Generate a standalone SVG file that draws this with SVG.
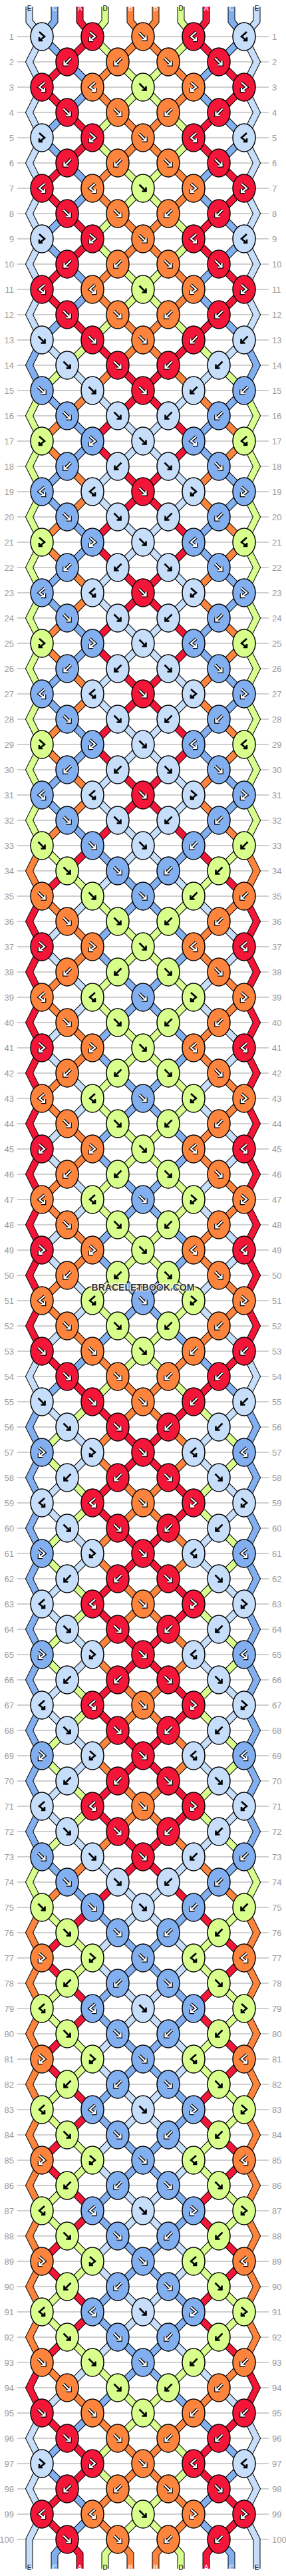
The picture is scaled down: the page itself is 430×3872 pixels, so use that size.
<svg xmlns="http://www.w3.org/2000/svg" width="430" height="3872" viewBox="0 0 430 3872">
<style>
.R{fill:#f31638}.O{fill:#fd843d}.G{fill:#d8fe8c}.M{fill:#82aff0}.L{fill:#c6defa}
.o{fill:none;stroke:#000;stroke-width:4.6}
.w{fill:none;stroke:#fff;stroke-width:2.2}
.k{fill:none;stroke:#000;stroke-width:2.6}
.so{fill:none;stroke:#000;stroke-width:11}
.cR{fill:none;stroke:#f31638;stroke-width:9}.cO{fill:none;stroke:#fd843d;stroke-width:9}.cG{fill:none;stroke:#d8fe8c;stroke-width:9}.cM{fill:none;stroke:#82aff0;stroke-width:9}.cL{fill:none;stroke:#c6defa;stroke-width:9}
.gl{fill:none;stroke:#c0c0c0;stroke-width:1.5}
.nl{font-family:"Liberation Sans",Arial,sans-serif;font-size:13px;fill:#9a9a9a;text-anchor:end}
.nr{font-family:"Liberation Sans",Arial,sans-serif;font-size:13px;fill:#9a9a9a;text-anchor:start}
.lt{font-family:"Liberation Sans",Arial,sans-serif;font-size:10px;text-anchor:middle}
.wt{fill:#fff}.bt{fill:#000}
</style>
<defs>
<ellipse id="e" rx="17" ry="21" stroke="#000" stroke-width="1.5"/>
<path id="af" d="M-5.5,-5.5L4.5,4.5M4.5,-1.5V4.5H-1.5"/>
<path id="ab" d="M5.5,-5.5L-4.5,4.5M-4.5,-1.5V4.5H1.5"/>
<path id="afb" d="M-4,-7L4,0L-4,6M-4,1V6H1"/>
<path id="abf" d="M4,-7L-4,0L4,6M4,1V6H-1"/>
<g id="Rf"><use href="#e" class="R"/><use href="#af" class="o"/><use href="#af" class="w"/></g>
<g id="Rb"><use href="#e" class="R"/><use href="#ab" class="o"/><use href="#ab" class="w"/></g>
<g id="Rfb"><use href="#e" class="R"/><use href="#afb" class="o"/><use href="#afb" class="w"/></g>
<g id="Rbf"><use href="#e" class="R"/><use href="#abf" class="o"/><use href="#abf" class="w"/></g>
<g id="Of"><use href="#e" class="O"/><use href="#af" class="o"/><use href="#af" class="w"/></g>
<g id="Ob"><use href="#e" class="O"/><use href="#ab" class="o"/><use href="#ab" class="w"/></g>
<g id="Ofb"><use href="#e" class="O"/><use href="#afb" class="o"/><use href="#afb" class="w"/></g>
<g id="Obf"><use href="#e" class="O"/><use href="#abf" class="o"/><use href="#abf" class="w"/></g>
<g id="Mf"><use href="#e" class="M"/><use href="#af" class="o"/><use href="#af" class="w"/></g>
<g id="Mb"><use href="#e" class="M"/><use href="#ab" class="o"/><use href="#ab" class="w"/></g>
<g id="Mfb"><use href="#e" class="M"/><use href="#afb" class="o"/><use href="#afb" class="w"/></g>
<g id="Mbf"><use href="#e" class="M"/><use href="#abf" class="o"/><use href="#abf" class="w"/></g>
<g id="Gf"><use href="#e" class="G"/><use href="#af" class="k"/></g>
<g id="Gb"><use href="#e" class="G"/><use href="#ab" class="k"/></g>
<g id="Gfb"><use href="#e" class="G"/><use href="#afb" class="k"/></g>
<g id="Gbf"><use href="#e" class="G"/><use href="#abf" class="k"/></g>
<g id="Lf"><use href="#e" class="L"/><use href="#af" class="k"/></g>
<g id="Lb"><use href="#e" class="L"/><use href="#ab" class="k"/></g>
<g id="Lfb"><use href="#e" class="L"/><use href="#afb" class="k"/></g>
<g id="Lbf"><use href="#e" class="L"/><use href="#abf" class="k"/></g>
<path id="sL" d="M44,10V32L63,55l-19,38 19,38 -19,38 19,38 -19,38 19,38 -19,38 19,38 -19,38 19,38 -19,38 19,38 38,38 38,38 38,38 38,38 -38,38 -38,38 38,38 38,38 -38,38 -38,38 38,38 38,38 -38,38 -38,38 38,38 38,38 -38,38 -38,38 38,38 38,38 -38,38 -38,38 -38,38 -38,38 38,38 38,38 -38,38 -38,38 38,38 38,38 -38,38 -38,38 38,38 38,38 -38,38 -38,38 38,38 38,38 -38,38 -38,38 -19,38 19,38 38,38 38,38 -38,38 -38,38 38,38 38,38 -38,38 -38,38 38,38 38,38 -38,38 -38,38 38,38 38,38 -38,38 -38,38 38,38 38,38 38,38 38,38 -38,38 -38,38 38,38 38,38 -38,38 -38,38 38,38 38,38 -38,38 -38,38 38,38 38,38 -38,38 -38,38 38,38 38,38 -38,38 -38,38 -38,38 -38,38 -19,38 19,38 -19,38 19,38 -19,38V3861"/>
<path id="sM" d="M82,10V32L63,55l38,38 38,38 -38,38 -38,38 38,38 38,38 -38,38 -38,38 38,38 38,38 -38,38 -38,38 -19,38 19,38 38,38 38,38 -38,38 -38,38 38,38 38,38 -38,38 -38,38 38,38 38,38 -38,38 -38,38 38,38 38,38 -38,38 -38,38 38,38 38,38 38,38 38,38 -38,38 -38,38 38,38 38,38 -38,38 -38,38 38,38 38,38 -38,38 -38,38 38,38 38,38 -38,38 -38,38 38,38 38,38 -38,38 -38,38 -38,38 -38,38 -19,38 19,38 -19,38 19,38 -19,38 19,38 -19,38 19,38 -19,38 19,38 -19,38 19,38 -19,38 19,38 -19,38 19,38 -19,38 19,38 38,38 38,38 38,38 38,38 -38,38 -38,38 38,38 38,38 -38,38 -38,38 38,38 38,38 -38,38 -38,38 38,38 38,38 -38,38 -38,38 38,38 38,38 -38,38 -38,38 -38,38 -38,38 38,38 38,38 -38,38 -19,22V3861"/>
<path id="sR" d="M120,10V32L139,55l-38,38 -38,38 38,38 38,38 -38,38 -38,38 38,38 38,38 -38,38 -38,38 38,38 38,38 38,38 38,38 -38,38 -38,38 38,38 38,38 -38,38 -38,38 38,38 38,38 -38,38 -38,38 38,38 38,38 -38,38 -38,38 38,38 38,38 -38,38 -38,38 -38,38 -38,38 -19,38 19,38 -19,38 19,38 -19,38 19,38 -19,38 19,38 -19,38 19,38 -19,38 19,38 -19,38 19,38 -19,38 19,38 -19,38 19,38 38,38 38,38 38,38 38,38 -38,38 -38,38 38,38 38,38 -38,38 -38,38 38,38 38,38 -38,38 -38,38 38,38 38,38 -38,38 -38,38 38,38 38,38 -38,38 -38,38 -38,38 -38,38 38,38 38,38 -38,38 -38,38 38,38 38,38 -38,38 -38,38 38,38 38,38 -38,38 -38,38 38,38 38,38 -38,38 -38,38 -19,38 19,38 38,38 38,38 -38,38 -38,38 38,38 19,22V3861"/>
<path id="sG" d="M158,10V32L139,55l38,38 38,38 -38,38 -38,38 38,38 38,38 -38,38 -38,38 38,38 38,38 -38,38 -38,38 -38,38 -38,38 -19,38 19,38 -19,38 19,38 -19,38 19,38 -19,38 19,38 -19,38 19,38 -19,38 19,38 -19,38 19,38 -19,38 19,38 -19,38 19,38 38,38 38,38 38,38 38,38 -38,38 -38,38 38,38 38,38 -38,38 -38,38 38,38 38,38 -38,38 -38,38 38,38 38,38 -38,38 -38,38 38,38 38,38 -38,38 -38,38 -38,38 -38,38 38,38 38,38 -38,38 -38,38 38,38 38,38 -38,38 -38,38 38,38 38,38 -38,38 -38,38 38,38 38,38 -38,38 -38,38 -19,38 19,38 38,38 38,38 -38,38 -38,38 38,38 38,38 -38,38 -38,38 38,38 38,38 -38,38 -38,38 38,38 38,38 -38,38 -38,38 38,38 38,38 38,38 38,38 -38,38 -38,38 38,38 38,38 -38,38 -19,22V3861"/>
<path id="sO" d="M196,10V32L215,55l-38,38 -38,38 38,38 38,38 -38,38 -38,38 38,38 38,38 -38,38 -38,38 38,38 38,38 -38,38 -38,38 -38,38 -38,38 38,38 38,38 -38,38 -38,38 38,38 38,38 -38,38 -38,38 38,38 38,38 -38,38 -38,38 38,38 38,38 -38,38 -38,38 -19,38 19,38 38,38 38,38 -38,38 -38,38 38,38 38,38 -38,38 -38,38 38,38 38,38 -38,38 -38,38 38,38 38,38 -38,38 -38,38 38,38 38,38 38,38 38,38 -38,38 -38,38 38,38 38,38 -38,38 -38,38 38,38 38,38 -38,38 -38,38 38,38 38,38 -38,38 -38,38 38,38 38,38 -38,38 -38,38 -38,38 -38,38 -19,38 19,38 -19,38 19,38 -19,38 19,38 -19,38 19,38 -19,38 19,38 -19,38 19,38 -19,38 19,38 -19,38 19,38 -19,38 19,38 38,38 38,38 38,38 38,38 -38,38 -38,38 38,38 19,22V3861"/>
</defs>
<rect width="430" height="3872" fill="#fff"/>
<g id="rowlines">
<path class="gl" d="M26,55H404M26,93H404M26,131H404M26,169H404M26,207H404M26,245H404M26,283H404M26,321H404M26,359H404M26,397H404M26,435H404M26,473H404M26,511H404M26,549H404M26,587H404M26,625H404M26,663H404M26,701H404M26,739H404M26,777H404M26,815H404M26,853H404M26,891H404M26,929H404M26,967H404M26,1005H404M26,1043H404M26,1081H404M26,1119H404M26,1157H404M26,1195H404M26,1233H404M26,1271H404M26,1309H404M26,1347H404M26,1385H404M26,1423H404M26,1461H404M26,1499H404M26,1537H404M26,1575H404M26,1613H404M26,1651H404M26,1689H404M26,1727H404M26,1765H404M26,1803H404M26,1841H404M26,1879H404M26,1917H404M26,1955H404M26,1993H404M26,2031H404M26,2069H404M26,2107H404M26,2145H404M26,2183H404M26,2221H404M26,2259H404M26,2297H404M26,2335H404M26,2373H404M26,2411H404M26,2449H404M26,2487H404M26,2525H404M26,2563H404M26,2601H404M26,2639H404M26,2677H404M26,2715H404M26,2753H404M26,2791H404M26,2829H404M26,2867H404M26,2905H404M26,2943H404M26,2981H404M26,3019H404M26,3057H404M26,3095H404M26,3133H404M26,3171H404M26,3209H404M26,3247H404M26,3285H404M26,3323H404M26,3361H404M26,3399H404M26,3437H404M26,3475H404M26,3513H404M26,3551H404M26,3589H404M26,3627H404M26,3665H404M26,3703H404M26,3741H404M26,3779H404M26,3817H404"/>
</g>
<g id="connectors">
<g id="strings-left">
<use href="#sL" class="so"/><use href="#sL" class="cL"/>
<use href="#sM" class="so"/><use href="#sM" class="cM"/>
<use href="#sR" class="so"/><use href="#sR" class="cR"/>
<use href="#sG" class="so"/><use href="#sG" class="cG"/>
<use href="#sO" class="so"/><use href="#sO" class="cO"/>
</g>
<g id="strings-right" transform="matrix(-1,0,0,1,430,0)">
<use href="#sL" class="so"/><use href="#sL" class="cL"/>
<use href="#sM" class="so"/><use href="#sM" class="cM"/>
<use href="#sR" class="so"/><use href="#sR" class="cR"/>
<use href="#sG" class="so"/><use href="#sG" class="cG"/>
<use href="#sO" class="so"/><use href="#sO" class="cO"/>
</g>
</g>
<g id="string-labels" class="lt">
<text x="44" y="16" class="bt">E</text><text x="82" y="16" class="wt">C</text><text x="120" y="16" class="wt">A</text><text x="158" y="16" class="bt">D</text><text x="196" y="16" class="wt">B</text><text x="234" y="16" class="wt">B</text><text x="272" y="16" class="bt">D</text><text x="310" y="16" class="wt">A</text><text x="348" y="16" class="wt">C</text><text x="386" y="16" class="bt">E</text>
<text x="44" y="3863" class="bt">E</text><text x="82" y="3863" class="wt">C</text><text x="120" y="3863" class="wt">A</text><text x="158" y="3863" class="bt">D</text><text x="196" y="3863" class="wt">B</text><text x="234" y="3863" class="wt">B</text><text x="272" y="3863" class="bt">D</text><text x="310" y="3863" class="wt">A</text><text x="348" y="3863" class="wt">C</text><text x="386" y="3863" class="bt">E</text>
</g>
<g id="knots">
<g transform="translate(0,55)"><g id="k1-1"><use href="#Lfb" x="63"/></g><g id="k1-2"><use href="#Rfb" x="139"/></g><g id="k1-3"><use href="#Of" x="215"/></g><g id="k1-4"><use href="#Rbf" x="291"/></g><g id="k1-5"><use href="#Lbf" x="367"/></g></g>
<g transform="translate(0,93)"><g id="k2-1"><use href="#Rb" x="101"/></g><g id="k2-2"><use href="#Ob" x="177"/></g><g id="k2-3"><use href="#Of" x="253"/></g><g id="k2-4"><use href="#Rf" x="329"/></g></g>
<g transform="translate(0,131)"><g id="k3-1"><use href="#Rbf" x="63"/></g><g id="k3-2"><use href="#Obf" x="139"/></g><g id="k3-3"><use href="#Gf" x="215"/></g><g id="k3-4"><use href="#Ofb" x="291"/></g><g id="k3-5"><use href="#Rfb" x="367"/></g></g>
<g transform="translate(0,169)"><g id="k4-1"><use href="#Rf" x="101"/></g><g id="k4-2"><use href="#Of" x="177"/></g><g id="k4-3"><use href="#Ob" x="253"/></g><g id="k4-4"><use href="#Rb" x="329"/></g></g>
<g transform="translate(0,207)"><g id="k5-1"><use href="#Lfb" x="63"/></g><g id="k5-2"><use href="#Rfb" x="139"/></g><g id="k5-3"><use href="#Of" x="215"/></g><g id="k5-4"><use href="#Rbf" x="291"/></g><g id="k5-5"><use href="#Lbf" x="367"/></g></g>
<g transform="translate(0,245)"><g id="k6-1"><use href="#Rb" x="101"/></g><g id="k6-2"><use href="#Ob" x="177"/></g><g id="k6-3"><use href="#Of" x="253"/></g><g id="k6-4"><use href="#Rf" x="329"/></g></g>
<g transform="translate(0,283)"><g id="k7-1"><use href="#Rbf" x="63"/></g><g id="k7-2"><use href="#Obf" x="139"/></g><g id="k7-3"><use href="#Gf" x="215"/></g><g id="k7-4"><use href="#Ofb" x="291"/></g><g id="k7-5"><use href="#Rfb" x="367"/></g></g>
<g transform="translate(0,321)"><g id="k8-1"><use href="#Rf" x="101"/></g><g id="k8-2"><use href="#Of" x="177"/></g><g id="k8-3"><use href="#Ob" x="253"/></g><g id="k8-4"><use href="#Rb" x="329"/></g></g>
<g transform="translate(0,359)"><g id="k9-1"><use href="#Lfb" x="63"/></g><g id="k9-2"><use href="#Rfb" x="139"/></g><g id="k9-3"><use href="#Of" x="215"/></g><g id="k9-4"><use href="#Rbf" x="291"/></g><g id="k9-5"><use href="#Lbf" x="367"/></g></g>
<g transform="translate(0,397)"><g id="k10-1"><use href="#Rb" x="101"/></g><g id="k10-2"><use href="#Ob" x="177"/></g><g id="k10-3"><use href="#Of" x="253"/></g><g id="k10-4"><use href="#Rf" x="329"/></g></g>
<g transform="translate(0,435)"><g id="k11-1"><use href="#Rbf" x="63"/></g><g id="k11-2"><use href="#Obf" x="139"/></g><g id="k11-3"><use href="#Gf" x="215"/></g><g id="k11-4"><use href="#Ofb" x="291"/></g><g id="k11-5"><use href="#Rfb" x="367"/></g></g>
<g transform="translate(0,473)"><g id="k12-1"><use href="#Rf" x="101"/></g><g id="k12-2"><use href="#Of" x="177"/></g><g id="k12-3"><use href="#Ob" x="253"/></g><g id="k12-4"><use href="#Rb" x="329"/></g></g>
<g transform="translate(0,511)"><g id="k13-1"><use href="#Lf" x="63"/></g><g id="k13-2"><use href="#Rf" x="139"/></g><g id="k13-3"><use href="#Of" x="215"/></g><g id="k13-4"><use href="#Rb" x="291"/></g><g id="k13-5"><use href="#Lb" x="367"/></g></g>
<g transform="translate(0,549)"><g id="k14-1"><use href="#Lf" x="101"/></g><g id="k14-2"><use href="#Rf" x="177"/></g><g id="k14-3"><use href="#Rb" x="253"/></g><g id="k14-4"><use href="#Lb" x="329"/></g></g>
<g transform="translate(0,587)"><g id="k15-1"><use href="#Mf" x="63"/></g><g id="k15-2"><use href="#Lf" x="139"/></g><g id="k15-3"><use href="#Rf" x="215"/></g><g id="k15-4"><use href="#Lb" x="291"/></g><g id="k15-5"><use href="#Mb" x="367"/></g></g>
<g transform="translate(0,625)"><g id="k16-1"><use href="#Mf" x="101"/></g><g id="k16-2"><use href="#Lf" x="177"/></g><g id="k16-3"><use href="#Lb" x="253"/></g><g id="k16-4"><use href="#Mb" x="329"/></g></g>
<g transform="translate(0,663)"><g id="k17-1"><use href="#Gfb" x="63"/></g><g id="k17-2"><use href="#Mfb" x="139"/></g><g id="k17-3"><use href="#Lf" x="215"/></g><g id="k17-4"><use href="#Mbf" x="291"/></g><g id="k17-5"><use href="#Gbf" x="367"/></g></g>
<g transform="translate(0,701)"><g id="k18-1"><use href="#Mb" x="101"/></g><g id="k18-2"><use href="#Lb" x="177"/></g><g id="k18-3"><use href="#Lf" x="253"/></g><g id="k18-4"><use href="#Mf" x="329"/></g></g>
<g transform="translate(0,739)"><g id="k19-1"><use href="#Mbf" x="63"/></g><g id="k19-2"><use href="#Lbf" x="139"/></g><g id="k19-3"><use href="#Rf" x="215"/></g><g id="k19-4"><use href="#Lfb" x="291"/></g><g id="k19-5"><use href="#Mfb" x="367"/></g></g>
<g transform="translate(0,777)"><g id="k20-1"><use href="#Mf" x="101"/></g><g id="k20-2"><use href="#Lf" x="177"/></g><g id="k20-3"><use href="#Lb" x="253"/></g><g id="k20-4"><use href="#Mb" x="329"/></g></g>
<g transform="translate(0,815)"><g id="k21-1"><use href="#Gfb" x="63"/></g><g id="k21-2"><use href="#Mfb" x="139"/></g><g id="k21-3"><use href="#Lf" x="215"/></g><g id="k21-4"><use href="#Mbf" x="291"/></g><g id="k21-5"><use href="#Gbf" x="367"/></g></g>
<g transform="translate(0,853)"><g id="k22-1"><use href="#Mb" x="101"/></g><g id="k22-2"><use href="#Lb" x="177"/></g><g id="k22-3"><use href="#Lf" x="253"/></g><g id="k22-4"><use href="#Mf" x="329"/></g></g>
<g transform="translate(0,891)"><g id="k23-1"><use href="#Mbf" x="63"/></g><g id="k23-2"><use href="#Lbf" x="139"/></g><g id="k23-3"><use href="#Rf" x="215"/></g><g id="k23-4"><use href="#Lfb" x="291"/></g><g id="k23-5"><use href="#Mfb" x="367"/></g></g>
<g transform="translate(0,929)"><g id="k24-1"><use href="#Mf" x="101"/></g><g id="k24-2"><use href="#Lf" x="177"/></g><g id="k24-3"><use href="#Lb" x="253"/></g><g id="k24-4"><use href="#Mb" x="329"/></g></g>
<g transform="translate(0,967)"><g id="k25-1"><use href="#Gfb" x="63"/></g><g id="k25-2"><use href="#Mfb" x="139"/></g><g id="k25-3"><use href="#Lf" x="215"/></g><g id="k25-4"><use href="#Mbf" x="291"/></g><g id="k25-5"><use href="#Gbf" x="367"/></g></g>
<g transform="translate(0,1005)"><g id="k26-1"><use href="#Mb" x="101"/></g><g id="k26-2"><use href="#Lb" x="177"/></g><g id="k26-3"><use href="#Lf" x="253"/></g><g id="k26-4"><use href="#Mf" x="329"/></g></g>
<g transform="translate(0,1043)"><g id="k27-1"><use href="#Mbf" x="63"/></g><g id="k27-2"><use href="#Lbf" x="139"/></g><g id="k27-3"><use href="#Rf" x="215"/></g><g id="k27-4"><use href="#Lfb" x="291"/></g><g id="k27-5"><use href="#Mfb" x="367"/></g></g>
<g transform="translate(0,1081)"><g id="k28-1"><use href="#Mf" x="101"/></g><g id="k28-2"><use href="#Lf" x="177"/></g><g id="k28-3"><use href="#Lb" x="253"/></g><g id="k28-4"><use href="#Mb" x="329"/></g></g>
<g transform="translate(0,1119)"><g id="k29-1"><use href="#Gfb" x="63"/></g><g id="k29-2"><use href="#Mfb" x="139"/></g><g id="k29-3"><use href="#Lf" x="215"/></g><g id="k29-4"><use href="#Mbf" x="291"/></g><g id="k29-5"><use href="#Gbf" x="367"/></g></g>
<g transform="translate(0,1157)"><g id="k30-1"><use href="#Mb" x="101"/></g><g id="k30-2"><use href="#Lb" x="177"/></g><g id="k30-3"><use href="#Lf" x="253"/></g><g id="k30-4"><use href="#Mf" x="329"/></g></g>
<g transform="translate(0,1195)"><g id="k31-1"><use href="#Mbf" x="63"/></g><g id="k31-2"><use href="#Lbf" x="139"/></g><g id="k31-3"><use href="#Rf" x="215"/></g><g id="k31-4"><use href="#Lfb" x="291"/></g><g id="k31-5"><use href="#Mfb" x="367"/></g></g>
<g transform="translate(0,1233)"><g id="k32-1"><use href="#Mf" x="101"/></g><g id="k32-2"><use href="#Lf" x="177"/></g><g id="k32-3"><use href="#Lb" x="253"/></g><g id="k32-4"><use href="#Mb" x="329"/></g></g>
<g transform="translate(0,1271)"><g id="k33-1"><use href="#Gf" x="63"/></g><g id="k33-2"><use href="#Mf" x="139"/></g><g id="k33-3"><use href="#Lf" x="215"/></g><g id="k33-4"><use href="#Mb" x="291"/></g><g id="k33-5"><use href="#Gb" x="367"/></g></g>
<g transform="translate(0,1309)"><g id="k34-1"><use href="#Gf" x="101"/></g><g id="k34-2"><use href="#Mf" x="177"/></g><g id="k34-3"><use href="#Mb" x="253"/></g><g id="k34-4"><use href="#Gb" x="329"/></g></g>
<g transform="translate(0,1347)"><g id="k35-1"><use href="#Of" x="63"/></g><g id="k35-2"><use href="#Gf" x="139"/></g><g id="k35-3"><use href="#Mf" x="215"/></g><g id="k35-4"><use href="#Gb" x="291"/></g><g id="k35-5"><use href="#Ob" x="367"/></g></g>
<g transform="translate(0,1385)"><g id="k36-1"><use href="#Of" x="101"/></g><g id="k36-2"><use href="#Gf" x="177"/></g><g id="k36-3"><use href="#Gb" x="253"/></g><g id="k36-4"><use href="#Ob" x="329"/></g></g>
<g transform="translate(0,1423)"><g id="k37-1"><use href="#Rfb" x="63"/></g><g id="k37-2"><use href="#Ofb" x="139"/></g><g id="k37-3"><use href="#Gf" x="215"/></g><g id="k37-4"><use href="#Obf" x="291"/></g><g id="k37-5"><use href="#Rbf" x="367"/></g></g>
<g transform="translate(0,1461)"><g id="k38-1"><use href="#Ob" x="101"/></g><g id="k38-2"><use href="#Gb" x="177"/></g><g id="k38-3"><use href="#Gf" x="253"/></g><g id="k38-4"><use href="#Of" x="329"/></g></g>
<g transform="translate(0,1499)"><g id="k39-1"><use href="#Obf" x="63"/></g><g id="k39-2"><use href="#Gbf" x="139"/></g><g id="k39-3"><use href="#Mf" x="215"/></g><g id="k39-4"><use href="#Gfb" x="291"/></g><g id="k39-5"><use href="#Ofb" x="367"/></g></g>
<g transform="translate(0,1537)"><g id="k40-1"><use href="#Of" x="101"/></g><g id="k40-2"><use href="#Gf" x="177"/></g><g id="k40-3"><use href="#Gb" x="253"/></g><g id="k40-4"><use href="#Ob" x="329"/></g></g>
<g transform="translate(0,1575)"><g id="k41-1"><use href="#Rfb" x="63"/></g><g id="k41-2"><use href="#Ofb" x="139"/></g><g id="k41-3"><use href="#Gf" x="215"/></g><g id="k41-4"><use href="#Obf" x="291"/></g><g id="k41-5"><use href="#Rbf" x="367"/></g></g>
<g transform="translate(0,1613)"><g id="k42-1"><use href="#Ob" x="101"/></g><g id="k42-2"><use href="#Gb" x="177"/></g><g id="k42-3"><use href="#Gf" x="253"/></g><g id="k42-4"><use href="#Of" x="329"/></g></g>
<g transform="translate(0,1651)"><g id="k43-1"><use href="#Obf" x="63"/></g><g id="k43-2"><use href="#Gbf" x="139"/></g><g id="k43-3"><use href="#Mf" x="215"/></g><g id="k43-4"><use href="#Gfb" x="291"/></g><g id="k43-5"><use href="#Ofb" x="367"/></g></g>
<g transform="translate(0,1689)"><g id="k44-1"><use href="#Of" x="101"/></g><g id="k44-2"><use href="#Gf" x="177"/></g><g id="k44-3"><use href="#Gb" x="253"/></g><g id="k44-4"><use href="#Ob" x="329"/></g></g>
<g transform="translate(0,1727)"><g id="k45-1"><use href="#Rfb" x="63"/></g><g id="k45-2"><use href="#Ofb" x="139"/></g><g id="k45-3"><use href="#Gf" x="215"/></g><g id="k45-4"><use href="#Obf" x="291"/></g><g id="k45-5"><use href="#Rbf" x="367"/></g></g>
<g transform="translate(0,1765)"><g id="k46-1"><use href="#Ob" x="101"/></g><g id="k46-2"><use href="#Gb" x="177"/></g><g id="k46-3"><use href="#Gf" x="253"/></g><g id="k46-4"><use href="#Of" x="329"/></g></g>
<g transform="translate(0,1803)"><g id="k47-1"><use href="#Obf" x="63"/></g><g id="k47-2"><use href="#Gbf" x="139"/></g><g id="k47-3"><use href="#Mf" x="215"/></g><g id="k47-4"><use href="#Gfb" x="291"/></g><g id="k47-5"><use href="#Ofb" x="367"/></g></g>
<g transform="translate(0,1841)"><g id="k48-1"><use href="#Of" x="101"/></g><g id="k48-2"><use href="#Gf" x="177"/></g><g id="k48-3"><use href="#Gb" x="253"/></g><g id="k48-4"><use href="#Ob" x="329"/></g></g>
<g transform="translate(0,1879)"><g id="k49-1"><use href="#Rfb" x="63"/></g><g id="k49-2"><use href="#Ofb" x="139"/></g><g id="k49-3"><use href="#Gf" x="215"/></g><g id="k49-4"><use href="#Obf" x="291"/></g><g id="k49-5"><use href="#Rbf" x="367"/></g></g>
<g transform="translate(0,1917)"><g id="k50-1"><use href="#Ob" x="101"/></g><g id="k50-2"><use href="#Gb" x="177"/></g><g id="k50-3"><use href="#Gf" x="253"/></g><g id="k50-4"><use href="#Of" x="329"/></g></g>
<g transform="translate(0,1955)"><g id="k51-1"><use href="#Obf" x="63"/></g><g id="k51-2"><use href="#Gbf" x="139"/></g><g id="k51-3"><use href="#Mf" x="215"/></g><g id="k51-4"><use href="#Gfb" x="291"/></g><g id="k51-5"><use href="#Ofb" x="367"/></g></g>
<g transform="translate(0,1993)"><g id="k52-1"><use href="#Of" x="101"/></g><g id="k52-2"><use href="#Gf" x="177"/></g><g id="k52-3"><use href="#Gb" x="253"/></g><g id="k52-4"><use href="#Ob" x="329"/></g></g>
<g transform="translate(0,2031)"><g id="k53-1"><use href="#Rf" x="63"/></g><g id="k53-2"><use href="#Of" x="139"/></g><g id="k53-3"><use href="#Gf" x="215"/></g><g id="k53-4"><use href="#Ob" x="291"/></g><g id="k53-5"><use href="#Rb" x="367"/></g></g>
<g transform="translate(0,2069)"><g id="k54-1"><use href="#Rf" x="101"/></g><g id="k54-2"><use href="#Of" x="177"/></g><g id="k54-3"><use href="#Ob" x="253"/></g><g id="k54-4"><use href="#Rb" x="329"/></g></g>
<g transform="translate(0,2107)"><g id="k55-1"><use href="#Lf" x="63"/></g><g id="k55-2"><use href="#Rf" x="139"/></g><g id="k55-3"><use href="#Of" x="215"/></g><g id="k55-4"><use href="#Rb" x="291"/></g><g id="k55-5"><use href="#Lb" x="367"/></g></g>
<g transform="translate(0,2145)"><g id="k56-1"><use href="#Lf" x="101"/></g><g id="k56-2"><use href="#Rf" x="177"/></g><g id="k56-3"><use href="#Rb" x="253"/></g><g id="k56-4"><use href="#Lb" x="329"/></g></g>
<g transform="translate(0,2183)"><g id="k57-1"><use href="#Mfb" x="63"/></g><g id="k57-2"><use href="#Lfb" x="139"/></g><g id="k57-3"><use href="#Rf" x="215"/></g><g id="k57-4"><use href="#Lbf" x="291"/></g><g id="k57-5"><use href="#Mbf" x="367"/></g></g>
<g transform="translate(0,2221)"><g id="k58-1"><use href="#Lb" x="101"/></g><g id="k58-2"><use href="#Rb" x="177"/></g><g id="k58-3"><use href="#Rf" x="253"/></g><g id="k58-4"><use href="#Lf" x="329"/></g></g>
<g transform="translate(0,2259)"><g id="k59-1"><use href="#Lbf" x="63"/></g><g id="k59-2"><use href="#Rbf" x="139"/></g><g id="k59-3"><use href="#Of" x="215"/></g><g id="k59-4"><use href="#Rfb" x="291"/></g><g id="k59-5"><use href="#Lfb" x="367"/></g></g>
<g transform="translate(0,2297)"><g id="k60-1"><use href="#Lf" x="101"/></g><g id="k60-2"><use href="#Rf" x="177"/></g><g id="k60-3"><use href="#Rb" x="253"/></g><g id="k60-4"><use href="#Lb" x="329"/></g></g>
<g transform="translate(0,2335)"><g id="k61-1"><use href="#Mfb" x="63"/></g><g id="k61-2"><use href="#Lfb" x="139"/></g><g id="k61-3"><use href="#Rf" x="215"/></g><g id="k61-4"><use href="#Lbf" x="291"/></g><g id="k61-5"><use href="#Mbf" x="367"/></g></g>
<g transform="translate(0,2373)"><g id="k62-1"><use href="#Lb" x="101"/></g><g id="k62-2"><use href="#Rb" x="177"/></g><g id="k62-3"><use href="#Rf" x="253"/></g><g id="k62-4"><use href="#Lf" x="329"/></g></g>
<g transform="translate(0,2411)"><g id="k63-1"><use href="#Lbf" x="63"/></g><g id="k63-2"><use href="#Rbf" x="139"/></g><g id="k63-3"><use href="#Of" x="215"/></g><g id="k63-4"><use href="#Rfb" x="291"/></g><g id="k63-5"><use href="#Lfb" x="367"/></g></g>
<g transform="translate(0,2449)"><g id="k64-1"><use href="#Lf" x="101"/></g><g id="k64-2"><use href="#Rf" x="177"/></g><g id="k64-3"><use href="#Rb" x="253"/></g><g id="k64-4"><use href="#Lb" x="329"/></g></g>
<g transform="translate(0,2487)"><g id="k65-1"><use href="#Mfb" x="63"/></g><g id="k65-2"><use href="#Lfb" x="139"/></g><g id="k65-3"><use href="#Rf" x="215"/></g><g id="k65-4"><use href="#Lbf" x="291"/></g><g id="k65-5"><use href="#Mbf" x="367"/></g></g>
<g transform="translate(0,2525)"><g id="k66-1"><use href="#Lb" x="101"/></g><g id="k66-2"><use href="#Rb" x="177"/></g><g id="k66-3"><use href="#Rf" x="253"/></g><g id="k66-4"><use href="#Lf" x="329"/></g></g>
<g transform="translate(0,2563)"><g id="k67-1"><use href="#Lbf" x="63"/></g><g id="k67-2"><use href="#Rbf" x="139"/></g><g id="k67-3"><use href="#Of" x="215"/></g><g id="k67-4"><use href="#Rfb" x="291"/></g><g id="k67-5"><use href="#Lfb" x="367"/></g></g>
<g transform="translate(0,2601)"><g id="k68-1"><use href="#Lf" x="101"/></g><g id="k68-2"><use href="#Rf" x="177"/></g><g id="k68-3"><use href="#Rb" x="253"/></g><g id="k68-4"><use href="#Lb" x="329"/></g></g>
<g transform="translate(0,2639)"><g id="k69-1"><use href="#Mfb" x="63"/></g><g id="k69-2"><use href="#Lfb" x="139"/></g><g id="k69-3"><use href="#Rf" x="215"/></g><g id="k69-4"><use href="#Lbf" x="291"/></g><g id="k69-5"><use href="#Mbf" x="367"/></g></g>
<g transform="translate(0,2677)"><g id="k70-1"><use href="#Lb" x="101"/></g><g id="k70-2"><use href="#Rb" x="177"/></g><g id="k70-3"><use href="#Rf" x="253"/></g><g id="k70-4"><use href="#Lf" x="329"/></g></g>
<g transform="translate(0,2715)"><g id="k71-1"><use href="#Lbf" x="63"/></g><g id="k71-2"><use href="#Rbf" x="139"/></g><g id="k71-3"><use href="#Of" x="215"/></g><g id="k71-4"><use href="#Rfb" x="291"/></g><g id="k71-5"><use href="#Lfb" x="367"/></g></g>
<g transform="translate(0,2753)"><g id="k72-1"><use href="#Lf" x="101"/></g><g id="k72-2"><use href="#Rf" x="177"/></g><g id="k72-3"><use href="#Rb" x="253"/></g><g id="k72-4"><use href="#Lb" x="329"/></g></g>
<g transform="translate(0,2791)"><g id="k73-1"><use href="#Mf" x="63"/></g><g id="k73-2"><use href="#Lf" x="139"/></g><g id="k73-3"><use href="#Rf" x="215"/></g><g id="k73-4"><use href="#Lb" x="291"/></g><g id="k73-5"><use href="#Mb" x="367"/></g></g>
<g transform="translate(0,2829)"><g id="k74-1"><use href="#Mf" x="101"/></g><g id="k74-2"><use href="#Lf" x="177"/></g><g id="k74-3"><use href="#Lb" x="253"/></g><g id="k74-4"><use href="#Mb" x="329"/></g></g>
<g transform="translate(0,2867)"><g id="k75-1"><use href="#Gf" x="63"/></g><g id="k75-2"><use href="#Mf" x="139"/></g><g id="k75-3"><use href="#Lf" x="215"/></g><g id="k75-4"><use href="#Mb" x="291"/></g><g id="k75-5"><use href="#Gb" x="367"/></g></g>
<g transform="translate(0,2905)"><g id="k76-1"><use href="#Gf" x="101"/></g><g id="k76-2"><use href="#Mf" x="177"/></g><g id="k76-3"><use href="#Mb" x="253"/></g><g id="k76-4"><use href="#Gb" x="329"/></g></g>
<g transform="translate(0,2943)"><g id="k77-1"><use href="#Ofb" x="63"/></g><g id="k77-2"><use href="#Gfb" x="139"/></g><g id="k77-3"><use href="#Mf" x="215"/></g><g id="k77-4"><use href="#Gbf" x="291"/></g><g id="k77-5"><use href="#Obf" x="367"/></g></g>
<g transform="translate(0,2981)"><g id="k78-1"><use href="#Gb" x="101"/></g><g id="k78-2"><use href="#Mb" x="177"/></g><g id="k78-3"><use href="#Mf" x="253"/></g><g id="k78-4"><use href="#Gf" x="329"/></g></g>
<g transform="translate(0,3019)"><g id="k79-1"><use href="#Gbf" x="63"/></g><g id="k79-2"><use href="#Mbf" x="139"/></g><g id="k79-3"><use href="#Lf" x="215"/></g><g id="k79-4"><use href="#Mfb" x="291"/></g><g id="k79-5"><use href="#Gfb" x="367"/></g></g>
<g transform="translate(0,3057)"><g id="k80-1"><use href="#Gf" x="101"/></g><g id="k80-2"><use href="#Mf" x="177"/></g><g id="k80-3"><use href="#Mb" x="253"/></g><g id="k80-4"><use href="#Gb" x="329"/></g></g>
<g transform="translate(0,3095)"><g id="k81-1"><use href="#Ofb" x="63"/></g><g id="k81-2"><use href="#Gfb" x="139"/></g><g id="k81-3"><use href="#Mf" x="215"/></g><g id="k81-4"><use href="#Gbf" x="291"/></g><g id="k81-5"><use href="#Obf" x="367"/></g></g>
<g transform="translate(0,3133)"><g id="k82-1"><use href="#Gb" x="101"/></g><g id="k82-2"><use href="#Mb" x="177"/></g><g id="k82-3"><use href="#Mf" x="253"/></g><g id="k82-4"><use href="#Gf" x="329"/></g></g>
<g transform="translate(0,3171)"><g id="k83-1"><use href="#Gbf" x="63"/></g><g id="k83-2"><use href="#Mbf" x="139"/></g><g id="k83-3"><use href="#Lf" x="215"/></g><g id="k83-4"><use href="#Mfb" x="291"/></g><g id="k83-5"><use href="#Gfb" x="367"/></g></g>
<g transform="translate(0,3209)"><g id="k84-1"><use href="#Gf" x="101"/></g><g id="k84-2"><use href="#Mf" x="177"/></g><g id="k84-3"><use href="#Mb" x="253"/></g><g id="k84-4"><use href="#Gb" x="329"/></g></g>
<g transform="translate(0,3247)"><g id="k85-1"><use href="#Ofb" x="63"/></g><g id="k85-2"><use href="#Gfb" x="139"/></g><g id="k85-3"><use href="#Mf" x="215"/></g><g id="k85-4"><use href="#Gbf" x="291"/></g><g id="k85-5"><use href="#Obf" x="367"/></g></g>
<g transform="translate(0,3285)"><g id="k86-1"><use href="#Gb" x="101"/></g><g id="k86-2"><use href="#Mb" x="177"/></g><g id="k86-3"><use href="#Mf" x="253"/></g><g id="k86-4"><use href="#Gf" x="329"/></g></g>
<g transform="translate(0,3323)"><g id="k87-1"><use href="#Gbf" x="63"/></g><g id="k87-2"><use href="#Mbf" x="139"/></g><g id="k87-3"><use href="#Lf" x="215"/></g><g id="k87-4"><use href="#Mfb" x="291"/></g><g id="k87-5"><use href="#Gfb" x="367"/></g></g>
<g transform="translate(0,3361)"><g id="k88-1"><use href="#Gf" x="101"/></g><g id="k88-2"><use href="#Mf" x="177"/></g><g id="k88-3"><use href="#Mb" x="253"/></g><g id="k88-4"><use href="#Gb" x="329"/></g></g>
<g transform="translate(0,3399)"><g id="k89-1"><use href="#Ofb" x="63"/></g><g id="k89-2"><use href="#Gfb" x="139"/></g><g id="k89-3"><use href="#Mf" x="215"/></g><g id="k89-4"><use href="#Gbf" x="291"/></g><g id="k89-5"><use href="#Obf" x="367"/></g></g>
<g transform="translate(0,3437)"><g id="k90-1"><use href="#Gb" x="101"/></g><g id="k90-2"><use href="#Mb" x="177"/></g><g id="k90-3"><use href="#Mf" x="253"/></g><g id="k90-4"><use href="#Gf" x="329"/></g></g>
<g transform="translate(0,3475)"><g id="k91-1"><use href="#Gbf" x="63"/></g><g id="k91-2"><use href="#Mbf" x="139"/></g><g id="k91-3"><use href="#Lf" x="215"/></g><g id="k91-4"><use href="#Mfb" x="291"/></g><g id="k91-5"><use href="#Gfb" x="367"/></g></g>
<g transform="translate(0,3513)"><g id="k92-1"><use href="#Gf" x="101"/></g><g id="k92-2"><use href="#Mf" x="177"/></g><g id="k92-3"><use href="#Mb" x="253"/></g><g id="k92-4"><use href="#Gb" x="329"/></g></g>
<g transform="translate(0,3551)"><g id="k93-1"><use href="#Of" x="63"/></g><g id="k93-2"><use href="#Gf" x="139"/></g><g id="k93-3"><use href="#Mf" x="215"/></g><g id="k93-4"><use href="#Gb" x="291"/></g><g id="k93-5"><use href="#Ob" x="367"/></g></g>
<g transform="translate(0,3589)"><g id="k94-1"><use href="#Of" x="101"/></g><g id="k94-2"><use href="#Gf" x="177"/></g><g id="k94-3"><use href="#Gb" x="253"/></g><g id="k94-4"><use href="#Ob" x="329"/></g></g>
<g transform="translate(0,3627)"><g id="k95-1"><use href="#Rf" x="63"/></g><g id="k95-2"><use href="#Of" x="139"/></g><g id="k95-3"><use href="#Gf" x="215"/></g><g id="k95-4"><use href="#Ob" x="291"/></g><g id="k95-5"><use href="#Rb" x="367"/></g></g>
<g transform="translate(0,3665)"><g id="k96-1"><use href="#Rf" x="101"/></g><g id="k96-2"><use href="#Of" x="177"/></g><g id="k96-3"><use href="#Ob" x="253"/></g><g id="k96-4"><use href="#Rb" x="329"/></g></g>
<g transform="translate(0,3703)"><g id="k97-1"><use href="#Lfb" x="63"/></g><g id="k97-2"><use href="#Rfb" x="139"/></g><g id="k97-3"><use href="#Of" x="215"/></g><g id="k97-4"><use href="#Rbf" x="291"/></g><g id="k97-5"><use href="#Lbf" x="367"/></g></g>
<g transform="translate(0,3741)"><g id="k98-1"><use href="#Rb" x="101"/></g><g id="k98-2"><use href="#Ob" x="177"/></g><g id="k98-3"><use href="#Of" x="253"/></g><g id="k98-4"><use href="#Rf" x="329"/></g></g>
<g transform="translate(0,3779)"><g id="k99-1"><use href="#Rbf" x="63"/></g><g id="k99-2"><use href="#Obf" x="139"/></g><g id="k99-3"><use href="#Gf" x="215"/></g><g id="k99-4"><use href="#Ofb" x="291"/></g><g id="k99-5"><use href="#Rfb" x="367"/></g></g>
<g transform="translate(0,3817)"><g id="k100-1"><use href="#Rf" x="101"/></g><g id="k100-2"><use href="#Of" x="177"/></g><g id="k100-3"><use href="#Ob" x="253"/></g><g id="k100-4"><use href="#Rb" x="329"/></g></g>
</g>
<g id="row-numbers-left" class="nl">
<text x="21" y="60">1</text><text x="21" y="98">2</text><text x="21" y="136">3</text><text x="21" y="174">4</text><text x="21" y="212">5</text><text x="21" y="250">6</text><text x="21" y="288">7</text><text x="21" y="326">8</text><text x="21" y="364">9</text><text x="21" y="402">10</text><text x="21" y="440">11</text><text x="21" y="478">12</text><text x="21" y="516">13</text><text x="21" y="554">14</text><text x="21" y="592">15</text><text x="21" y="630">16</text><text x="21" y="668">17</text><text x="21" y="706">18</text><text x="21" y="744">19</text><text x="21" y="782">20</text><text x="21" y="820">21</text><text x="21" y="858">22</text><text x="21" y="896">23</text><text x="21" y="934">24</text><text x="21" y="972">25</text><text x="21" y="1010">26</text><text x="21" y="1048">27</text><text x="21" y="1086">28</text><text x="21" y="1124">29</text><text x="21" y="1162">30</text><text x="21" y="1200">31</text><text x="21" y="1238">32</text><text x="21" y="1276">33</text><text x="21" y="1314">34</text><text x="21" y="1352">35</text><text x="21" y="1390">36</text><text x="21" y="1428">37</text><text x="21" y="1466">38</text><text x="21" y="1504">39</text><text x="21" y="1542">40</text><text x="21" y="1580">41</text><text x="21" y="1618">42</text><text x="21" y="1656">43</text><text x="21" y="1694">44</text><text x="21" y="1732">45</text><text x="21" y="1770">46</text><text x="21" y="1808">47</text><text x="21" y="1846">48</text><text x="21" y="1884">49</text><text x="21" y="1922">50</text><text x="21" y="1960">51</text><text x="21" y="1998">52</text><text x="21" y="2036">53</text><text x="21" y="2074">54</text><text x="21" y="2112">55</text><text x="21" y="2150">56</text><text x="21" y="2188">57</text><text x="21" y="2226">58</text><text x="21" y="2264">59</text><text x="21" y="2302">60</text><text x="21" y="2340">61</text><text x="21" y="2378">62</text><text x="21" y="2416">63</text><text x="21" y="2454">64</text><text x="21" y="2492">65</text><text x="21" y="2530">66</text><text x="21" y="2568">67</text><text x="21" y="2606">68</text><text x="21" y="2644">69</text><text x="21" y="2682">70</text><text x="21" y="2720">71</text><text x="21" y="2758">72</text><text x="21" y="2796">73</text><text x="21" y="2834">74</text><text x="21" y="2872">75</text><text x="21" y="2910">76</text><text x="21" y="2948">77</text><text x="21" y="2986">78</text><text x="21" y="3024">79</text><text x="21" y="3062">80</text><text x="21" y="3100">81</text><text x="21" y="3138">82</text><text x="21" y="3176">83</text><text x="21" y="3214">84</text><text x="21" y="3252">85</text><text x="21" y="3290">86</text><text x="21" y="3328">87</text><text x="21" y="3366">88</text><text x="21" y="3404">89</text><text x="21" y="3442">90</text><text x="21" y="3480">91</text><text x="21" y="3518">92</text><text x="21" y="3556">93</text><text x="21" y="3594">94</text><text x="21" y="3632">95</text><text x="21" y="3670">96</text><text x="21" y="3708">97</text><text x="21" y="3746">98</text><text x="21" y="3784">99</text><text x="21" y="3822">100</text>
</g>
<g id="row-numbers-right" class="nr">
<text x="409" y="60">1</text><text x="409" y="98">2</text><text x="409" y="136">3</text><text x="409" y="174">4</text><text x="409" y="212">5</text><text x="409" y="250">6</text><text x="409" y="288">7</text><text x="409" y="326">8</text><text x="409" y="364">9</text><text x="409" y="402">10</text><text x="409" y="440">11</text><text x="409" y="478">12</text><text x="409" y="516">13</text><text x="409" y="554">14</text><text x="409" y="592">15</text><text x="409" y="630">16</text><text x="409" y="668">17</text><text x="409" y="706">18</text><text x="409" y="744">19</text><text x="409" y="782">20</text><text x="409" y="820">21</text><text x="409" y="858">22</text><text x="409" y="896">23</text><text x="409" y="934">24</text><text x="409" y="972">25</text><text x="409" y="1010">26</text><text x="409" y="1048">27</text><text x="409" y="1086">28</text><text x="409" y="1124">29</text><text x="409" y="1162">30</text><text x="409" y="1200">31</text><text x="409" y="1238">32</text><text x="409" y="1276">33</text><text x="409" y="1314">34</text><text x="409" y="1352">35</text><text x="409" y="1390">36</text><text x="409" y="1428">37</text><text x="409" y="1466">38</text><text x="409" y="1504">39</text><text x="409" y="1542">40</text><text x="409" y="1580">41</text><text x="409" y="1618">42</text><text x="409" y="1656">43</text><text x="409" y="1694">44</text><text x="409" y="1732">45</text><text x="409" y="1770">46</text><text x="409" y="1808">47</text><text x="409" y="1846">48</text><text x="409" y="1884">49</text><text x="409" y="1922">50</text><text x="409" y="1960">51</text><text x="409" y="1998">52</text><text x="409" y="2036">53</text><text x="409" y="2074">54</text><text x="409" y="2112">55</text><text x="409" y="2150">56</text><text x="409" y="2188">57</text><text x="409" y="2226">58</text><text x="409" y="2264">59</text><text x="409" y="2302">60</text><text x="409" y="2340">61</text><text x="409" y="2378">62</text><text x="409" y="2416">63</text><text x="409" y="2454">64</text><text x="409" y="2492">65</text><text x="409" y="2530">66</text><text x="409" y="2568">67</text><text x="409" y="2606">68</text><text x="409" y="2644">69</text><text x="409" y="2682">70</text><text x="409" y="2720">71</text><text x="409" y="2758">72</text><text x="409" y="2796">73</text><text x="409" y="2834">74</text><text x="409" y="2872">75</text><text x="409" y="2910">76</text><text x="409" y="2948">77</text><text x="409" y="2986">78</text><text x="409" y="3024">79</text><text x="409" y="3062">80</text><text x="409" y="3100">81</text><text x="409" y="3138">82</text><text x="409" y="3176">83</text><text x="409" y="3214">84</text><text x="409" y="3252">85</text><text x="409" y="3290">86</text><text x="409" y="3328">87</text><text x="409" y="3366">88</text><text x="409" y="3404">89</text><text x="409" y="3442">90</text><text x="409" y="3480">91</text><text x="409" y="3518">92</text><text x="409" y="3556">93</text><text x="409" y="3594">94</text><text x="409" y="3632">95</text><text x="409" y="3670">96</text><text x="409" y="3708">97</text><text x="409" y="3746">98</text><text x="409" y="3784">99</text><text x="409" y="3822">100</text>
</g>
<text id="watermark" x="215" y="1940" text-anchor="middle" font-family="'Liberation Sans',Arial,sans-serif" font-size="14" font-weight="bold" fill="#333" stroke="#fff" stroke-width="2" paint-order="stroke">BRACELETBOOK.COM</text>
</svg>
